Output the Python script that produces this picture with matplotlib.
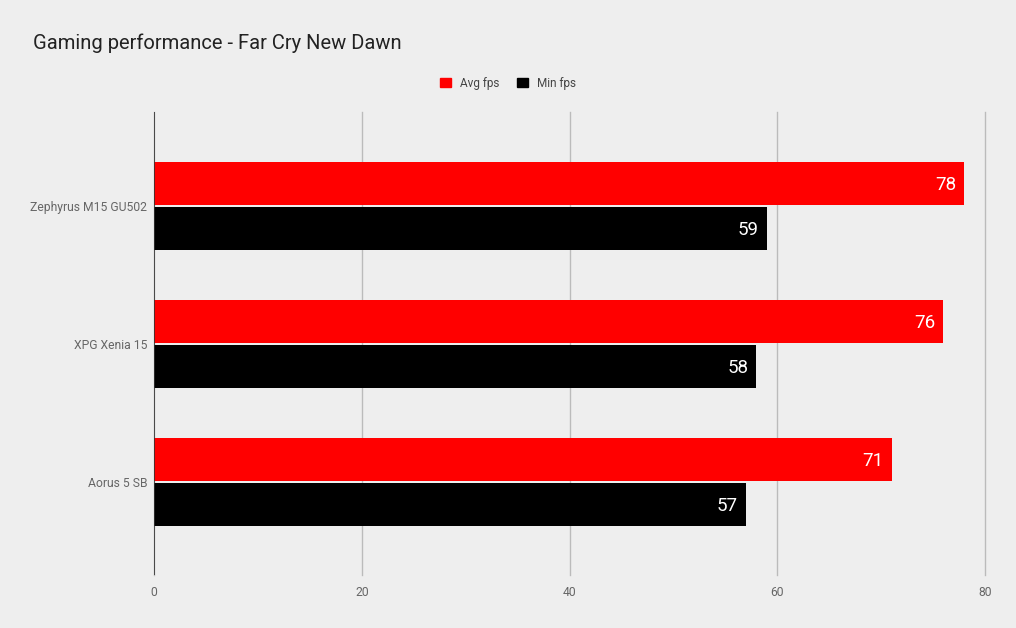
import numpy as np
import matplotlib.pyplot as plt
from matplotlib.patches import Patch

# Data
laptops = ["Zephyrus M15 GU502", "XPG Xenia 15", "Aorus 5 SB"]
avg_fps = [78, 76, 71]
min_fps = [59, 58, 57]
x_ticks = [0, 20, 40, 60, 80]

plt.rcParams['font.family'] = ['Roboto', 'DejaVu Sans']
bg = '#eeeeee'

fig = plt.figure(figsize=(10.16, 6.28), dpi=100, facecolor=bg)
ax = fig.add_axes([0.1516, 0.0844, 0.8179, 0.7373], facecolor=bg)

y = np.arange(len(laptops))
h = 0.31
off = 0.163
bars_avg = ax.barh(y - off, avg_fps, height=h, color='#ff0000', zorder=3)
bars_min = ax.barh(y + off, min_fps, height=h, color='#000000', zorder=3)

for bars, vals in [(bars_avg, avg_fps), (bars_min, min_fps)]:
    for b, v in zip(bars, vals):
        ax.text(v - 0.8, b.get_y() + b.get_height() / 2 + 0.008, str(v), ha='right', va='center',
                color='white', fontsize=13.5, zorder=4)

ax.set_xlim(0, 80)
ax.set_ylim(2.674, -0.681)
ax.set_xticks(x_ticks)
ax.set_yticks(y)
ax.set_yticklabels(laptops)
ax.tick_params(axis='both', length=0, labelsize=8.7, colors='#666666')
ax.tick_params(axis='x', pad=8)
ax.tick_params(axis='y', pad=5)
ax.grid(axis='x', color='#bbbbbb', linewidth=1, zorder=0)
for gl in ax.get_xgridlines():
    gl.set_clip_on(False)
for s in ax.spines.values():
    s.set_visible(False)
ax.axvline(0, color='#333333', linewidth=1.2, zorder=5)

fig.text(33 / 1016, 1 - 43 / 628, "Gaming performance - Far Cry New Dawn", fontsize=14.5,
         color='#222222', va='center', ha='left')

handles = [Patch(color='#ff0000', label='Avg fps'), Patch(color='#000000', label='Min fps')]
fig.legend(handles=handles, loc='center', bbox_to_anchor=(0.5, 1 - 83 / 628), ncol=2,
           frameon=False, fontsize=8.5, labelcolor='#444444', handlelength=0.9, handleheight=0.9,
           columnspacing=1.5, handletextpad=0.8)

plt.savefig("out.png", dpi=100, facecolor=bg)
